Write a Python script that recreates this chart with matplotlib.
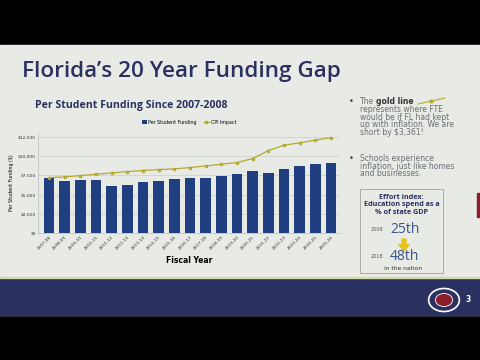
import matplotlib.pyplot as plt
from matplotlib.patches import Rectangle, FancyArrow
import matplotlib.ticker as mticker

years = ["2007-08", "2008-09", "2009-10", "2010-11", "2011-12", "2012-13", "2013-14",
         "2014-15", "2015-16", "2016-17", "2017-18", "2018-19", "2019-20", "2020-21",
         "2021-22", "2022-23", "2023-24", "2024-25", "2025-26"]
funding = [7120, 6810, 6900, 6900, 6160, 6250, 6640, 6810, 7030, 7160,
           7200, 7380, 7680, 8030, 7850, 8290, 8680, 9030, 9110]
cpi = [7200, 7290, 7460, 7640, 7810, 7990, 8120, 8250, 8330, 8510,
       8720, 8940, 9160, 9680, 10720, 11420, 11720, 12070, 12410]
yticks = [0, 2500, 5000, 7500, 10000, 12500]

navy = "#2a3060"
bar_col = "#1f3f80"
gold = "#b8aa2c"
slide = "#e7eae5"

W, H = 480, 360
def fx(px): return px / W
def fy(py): return 1 - py / H

fig = plt.figure(figsize=(4.8, 3.6), dpi=100, facecolor="black")

# slide background and footer band
fig.patches.append(Rectangle((0, fy(315)), 1, fy(45) - fy(315), transform=fig.transFigure,
                             color=slide, zorder=-5))
fig.patches.append(Rectangle((0, fy(315)), 1, fy(278) - fy(315), transform=fig.transFigure,
                             color=navy, zorder=1))
fig.patches.append(Rectangle((0, fy(278)), 1, fy(276.5) - fy(278), transform=fig.transFigure,
                             color="#d6dba0", zorder=1))

fig.text(fx(22), fy(71), "Florida\u2019s 20 Year Funding Gap", fontsize=16.2, color=navy,
         family="Open Sans", weight="semibold", va="center")
fig.text(fx(35), fy(105), "Per Student Funding Since 2007-2008", fontsize=7.6, color=navy,
         family="Open Sans", weight="bold", va="center")

ax = fig.add_axes([fx(38), fy(233), fx(340) - fx(38), fy(133) - fy(233)], zorder=2)
ax.set_facecolor(slide)
x = range(len(years))
b = ax.bar(x, funding, width=0.68, color=bar_col, label="Per Student Funding", zorder=2)
l, = ax.plot(x, cpi, color=gold, lw=0.9, marker="o", ms=2.2, mfc="#c4b52e", mec="#9c8f20",
             mew=0.3, label="CPI Impact", zorder=3)
ax.set_xlim(-0.7, 18.57)
ax.set_ylim(0, 13000)
ax.set_yticks(yticks)
ax.yaxis.set_major_formatter(mticker.FuncFormatter(lambda v, p: "${:,.0f}".format(v)))
ax.set_xticks(list(x))
ax.set_xticklabels(years, rotation=45, ha="right", rotation_mode="anchor")
ax.tick_params(axis="both", labelsize=3.2, length=0, pad=1.5, colors="#333333")
ax.grid(axis="y", color="#cacdc7", lw=0.5, zorder=0)
for s in ["top", "right"]:
    ax.spines[s].set_visible(False)
for s in ["left", "bottom"]:
    ax.spines[s].set_color("#bbbbbb")
    ax.spines[s].set_linewidth(0.5)
ax.set_ylabel("Per Student Funding ($)", fontsize=3.4, labelpad=3)
ax.set_xlabel("Fiscal Year", fontsize=5.5, weight="bold", labelpad=4)
ax.legend([b, l], ["Per Student Funding", "CPI Impact"], loc="lower center",
          bbox_to_anchor=(0.5, 1.04), ncol=2, frameon=False,
          fontsize=3.4, handlelength=1.0, handletextpad=0.4, columnspacing=1.5)

# right side text
fs = 5.5
tc = "#6b6f75"
sp = 7.6
fig.text(fx(349), fy(102), "\u2022", fontsize=6, color="#444444", va="center")
fig.text(fx(360), fy(102), "The", fontsize=fs, color=tc, va="center")
fig.text(fx(376.5), fy(102), "gold line", fontsize=fs, color="#333333", weight="bold",
         va="center")
fig.add_artist(plt.Line2D([fx(418), fx(445)], [fy(104), fy(98)], color=gold, lw=0.8,
                          transform=fig.transFigure))
fig.add_artist(plt.Line2D([fx(431)], [fy(101)], color=gold, marker="o", ms=2,
                          transform=fig.transFigure))
lines1 = ["represents where FTE", "would be if FL had kept", "up with inflation. We are",
          "short by $3,361!"]
for i, t in enumerate(lines1):
    fig.text(fx(360), fy(109.5 + i * sp), t, fontsize=fs, color=tc, va="center")
fig.text(fx(349), fy(158.5), "\u2022", fontsize=6, color="#444444", va="center")
lines2 = ["Schools experience", "inflation, just like homes", "and businesses."]
for i, t in enumerate(lines2):
    fig.text(fx(360), fy(158.5 + i * sp), t, fontsize=fs, color=tc, va="center")

# effort index box
fig.patches.append(Rectangle((fx(360), fy(273)), fx(443) - fx(360), fy(189) - fy(273),
                             transform=fig.transFigure, fill=False, ec="#a9aca8", lw=0.7,
                             zorder=2))
cx = fx(401.5)
for i, t in enumerate(["Effort index:", "Education spend as a", "% of state GDP"]):
    fig.text(cx, fy(197.5 + i * 7.5), t, fontsize=5.2, color=navy, weight="bold",
             ha="center", va="center", family="Open Sans")
fig.text(fx(371), fy(230), "2008", fontsize=3.5, color="#555555", va="center")
fig.text(fx(390), fy(230), "25th", fontsize=10, color="#3a568a", va="center",
         family="Open Sans")
fig.add_artist(FancyArrow(fx(404), fy(239), 0, -(fy(239) - fy(251)), width=0.008,
                          head_width=0.022, head_length=0.018, length_includes_head=True,
                          color="#e3c31c", transform=fig.transFigure))
fig.text(fx(371), fy(257), "2018", fontsize=3.5, color="#555555", va="center")
fig.text(fx(390), fy(257), "48th", fontsize=10, color="#3a568a", va="center",
         family="Open Sans")
fig.text(fx(403), fy(268), "in the nation", fontsize=4.3, color="#333333", ha="center",
         va="center")

# red tab on right edge
fig.patches.append(Rectangle((fx(477), fy(217)), fx(480) - fx(477), fy(193) - fy(217),
                             transform=fig.transFigure, color="#8c1d2c", zorder=2))

# footer logo and page number
fig.patches.append(plt.Circle((fx(444), fy(300)), 0.032, transform=fig.transFigure,
                              fc="#2a3060", ec="white", lw=1.2, zorder=3))
fig.patches.append(plt.Circle((fx(444), fy(300)), 0.018, transform=fig.transFigure,
                              fc="#8c1d2c", ec="white", lw=0.6, zorder=4))
fig.text(fx(466), fy(299), "3", fontsize=5.5, color="white", weight="bold", va="center")

fig.savefig("out.png", dpi=100, facecolor="black")
